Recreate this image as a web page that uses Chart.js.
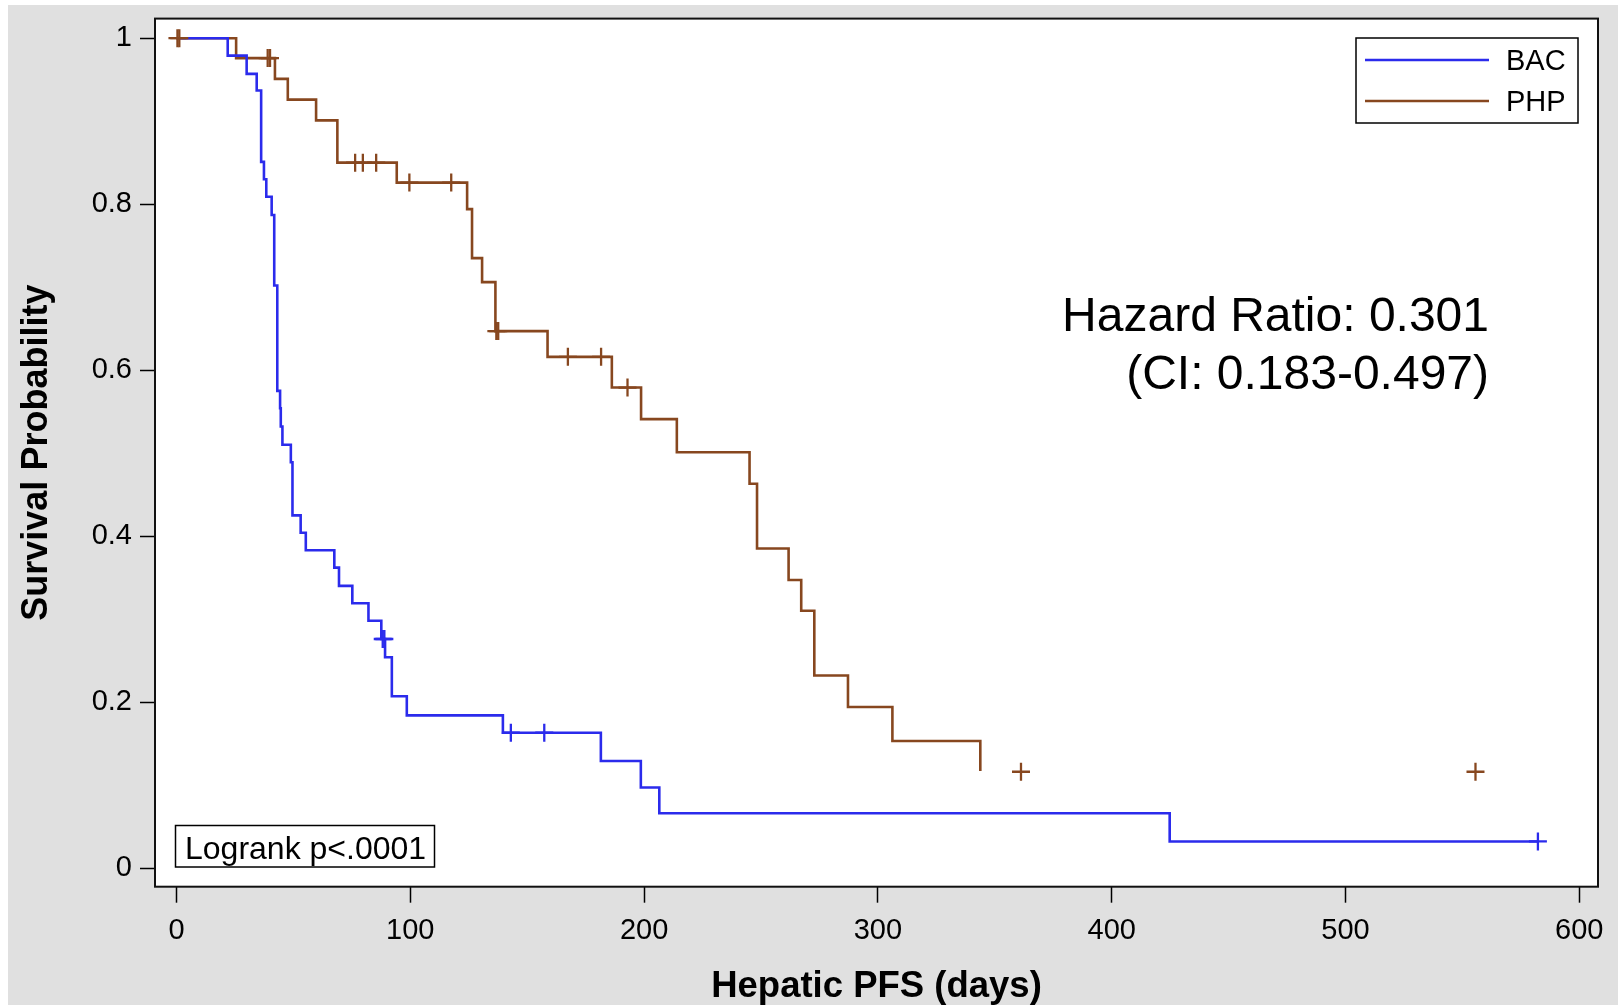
<!DOCTYPE html>
<html>
<head>
<meta charset="utf-8">
<style>
  html, body { margin: 0; padding: 0; background: #fff; }
  #wrap { width: 1618px; height: 1005px; }
</style>
<script src="https://cdn.jsdelivr.net/npm/chart.js@4/dist/chart.umd.min.js"></script>
</head>
<body>
<div id="wrap"><canvas id="kmChart" width="1618" height="1005"></canvas></div>
<script>
// Kaplan-Meier steps: day of each drop and survival after it
const groups = ['BAC', 'PHP'];
const groupColors = ['#2b2bec', '#87471f'];

const bacDays = [0, 21.9, 30, 34.3, 36.2, 37.4, 38.4, 40.7, 41.8, 43.1, 44.3, 44.6, 45.3, 48.9, 49.6,
  53.1, 55.3, 67.5, 69.5, 75.2, 82.1, 87.6, 89.2, 92.1, 98.5, 139.6, 181.5, 198.6, 206.5, 424.8, 582.3];
const bacSurv = [1, 0.979, 0.957, 0.937, 0.851, 0.830, 0.809, 0.787, 0.702, 0.575, 0.554, 0.532, 0.510, 0.489, 0.425,
  0.404, 0.383, 0.362, 0.340, 0.319, 0.298, 0.276, 0.254, 0.207, 0.184, 0.163, 0.129, 0.097, 0.066, 0.032, 0.032];
const bacCensorDays = [88.2, 88.9, 143.0, 157.3, 582.3];
const bacCensorSurv = [0.276, 0.276, 0.163, 0.163, 0.032];

const phpDays = [0, 25.5, 42.1, 47.6, 59.7, 68.8, 94.2, 124.3, 126.4, 130.7, 136.4, 158.7, 186.2, 198.7,
  214.0, 245.1, 248.3, 261.8, 267.2, 272.8, 287.2, 306.2, 343.8];
const phpSurv = [1, 0.976, 0.951, 0.926, 0.901, 0.850, 0.826, 0.794, 0.735, 0.706, 0.647, 0.616, 0.579, 0.541,
  0.501, 0.463, 0.385, 0.347, 0.310, 0.232, 0.194, 0.153, 0.117];
const phpCensorDays = [0.4, 1.2, 39.0, 40.0, 76.4, 79.7, 85.4, 99.6, 117.5, 136.8, 137.6, 167.4, 181.6, 192.9, 361.2, 555.6];
const phpCensorSurv = [1, 1, 0.976, 0.976, 0.850, 0.850, 0.850, 0.826, 0.826, 0.647, 0.647, 0.616, 0.616, 0.579, 0.116, 0.116];

const xTicks = [0, 100, 200, 300, 400, 500, 600];
const xTickLabels = ['0', '100', '200', '300', '400', '500', '600'];
const yTicks = [0, 0.2, 0.4, 0.6, 0.8, 1];
const yTickLabels = ['0', '0.2', '0.4', '0.6', '0.8', '1'];

const hazardLines = ['Hazard Ratio: 0.301', '(CI: 0.183-0.497)'];
const logrankText = 'Logrank p<.0001';

const toPoints = (xs, ys) => xs.map((x, i) => ({ x, y: ys[i] }));

Chart.defaults.font.family = "'Liberation Sans', Arial, sans-serif";
Chart.defaults.color = '#000';

const stepLine = (label, xs, ys, color) => ({
  label,
  data: toPoints(xs, ys),
  borderColor: color,
  borderWidth: 2.6,
  stepped: 'before',
  pointRadius: 0,
  fill: false,
  kmLine: true,
  order: 2
});

const censorMarks = (label, xs, ys, color) => ({
  label,
  data: toPoints(xs, ys),
  showLine: false,
  pointStyle: 'cross',
  pointRadius: 9,
  pointBorderWidth: 2.3,
  pointBorderColor: color,
  borderColor: color,
  order: 1
});

// gray page, white plot panel and its black frame
const panel = {
  id: 'panel',
  beforeDraw(chart) {
    const { ctx, width, height, chartArea: a } = chart;
    ctx.save();
    ctx.fillStyle = '#ffffff';
    ctx.fillRect(0, 0, width, height);
    ctx.fillStyle = '#e0e0e0';
    ctx.fillRect(8, 5, width - 8, height - 5);
    ctx.fillStyle = '#ffffff';
    ctx.fillRect(a.left, a.top, a.right - a.left, a.bottom - a.top);
    ctx.restore();
  },
  beforeDatasetsDraw(chart) {
    const { ctx, chartArea: a } = chart;
    ctx.save();
    ctx.strokeStyle = '#111';
    ctx.lineWidth = 2;
    ctx.strokeRect(a.left, a.top, a.right - a.left, a.bottom - a.top);
    ctx.restore();
  }
};

// legend box, hazard ratio note and logrank box
const notes = {
  id: 'notes',
  afterDatasetsDraw(chart) {
    const { ctx } = chart;
    ctx.save();

    // legend
    ctx.fillStyle = '#fff';
    ctx.fillRect(1356, 38, 222, 85);
    ctx.strokeStyle = '#000';
    ctx.lineWidth = 1.5;
    ctx.strokeRect(1356, 38, 222, 85);
    ctx.font = "29px 'Liberation Sans', Arial, sans-serif";
    ctx.textBaseline = 'middle';
    ctx.textAlign = 'left';
    chart.data.datasets.filter(d => d.kmLine).forEach((d, i) => {
      const y = 60 + i * 41;
      ctx.strokeStyle = d.borderColor;
      ctx.lineWidth = 2.6;
      ctx.beginPath();
      ctx.moveTo(1365, y);
      ctx.lineTo(1489, y);
      ctx.stroke();
      ctx.fillStyle = '#000';
      ctx.fillText(d.label, 1506, y + 2);
    });

    // hazard ratio
    ctx.font = "48px 'Liberation Sans', Arial, sans-serif";
    ctx.textAlign = 'right';
    ctx.fillStyle = '#000';
    ctx.fillText(hazardLines[0], 1489, 318);
    ctx.fillText(hazardLines[1], 1489, 376);

    // logrank
    ctx.fillStyle = '#fff';
    ctx.fillRect(175.5, 825.5, 259, 41.5);
    ctx.strokeStyle = '#000';
    ctx.lineWidth = 1.5;
    ctx.strokeRect(175.5, 825.5, 259, 41.5);
    ctx.font = "32px 'Liberation Sans', Arial, sans-serif";
    ctx.textAlign = 'left';
    ctx.fillStyle = '#000';
    ctx.fillText(logrankText, 185, 850);

    ctx.restore();
  }
};

const canvas = document.getElementById('kmChart');
new Chart(canvas.getContext('2d'), {
  type: 'line',
  data: {
    datasets: [
      stepLine(groups[0], bacDays, bacSurv, groupColors[0]),
      stepLine(groups[1], phpDays, phpSurv, groupColors[1]),
      censorMarks(groups[0] + ' censored', bacCensorDays, bacCensorSurv, groupColors[0]),
      censorMarks(groups[1] + ' censored', phpCensorDays, phpCensorSurv, groupColors[1])
    ]
  },
  options: {
    responsive: false,
    devicePixelRatio: 1,
    animation: false,
    events: [],
    layout: { padding: { left: 0, top: 18.6, right: 20, bottom: 0 } },
    scales: {
      x: {
        type: 'linear',
        min: -9.2,
        max: 608,
        afterBuildTicks: s => { s.ticks = xTicks.map(v => ({ value: v })); },
        afterFit: s => { s.height = 1005 - 886.7; s.paddingLeft = 0; s.paddingRight = 0; },
        ticks: {
          color: '#000',
          font: { size: 29 },
          padding: 11,
          maxRotation: 0,
          callback: (v, i) => xTickLabels[i]
        },
        grid: {
          drawOnChartArea: false,
          tickLength: 16,
          tickColor: '#000',
          tickWidth: 1.5
        },
        border: { display: false },
        title: {
          display: true,
          text: 'Hepatic PFS (days)',
          color: '#000',
          font: { size: 36.5, weight: 'bold' },
          padding: { top: 0, bottom: -4 }
        }
      },
      y: {
        type: 'linear',
        min: -0.0225,
        max: 1.0236,
        afterBuildTicks: s => { s.ticks = yTicks.map(v => ({ value: v })); },
        afterFit: s => { s.width = 155; s.paddingTop = 0; s.paddingBottom = 0; },
        ticks: {
          color: '#000',
          font: { size: 29 },
          padding: 8,
          callback: (v, i) => yTickLabels[i]
        },
        grid: {
          drawOnChartArea: false,
          tickLength: 15,
          tickColor: '#000',
          tickWidth: 1.5
        },
        border: { display: false },
        title: {
          display: true,
          text: 'Survival Probability',
          color: '#000',
          font: { size: 36, weight: 'bold' },
          padding: { top: 15, bottom: 0 }
        }
      }
    },
    plugins: {
      legend: { display: false },
      tooltip: { enabled: false }
    }
  },
  plugins: [panel, notes]
});
</script>
</body>
</html>
